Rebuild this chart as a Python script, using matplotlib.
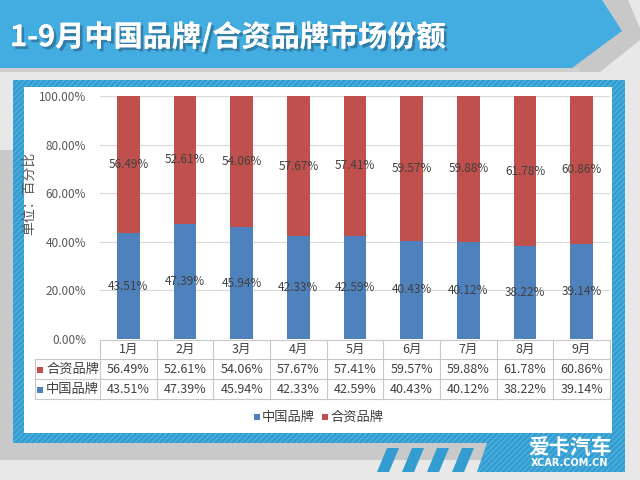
import matplotlib
matplotlib.use("Agg")
import matplotlib.pyplot as plt
import matplotlib.patheffects as pe
from matplotlib.patches import Polygon, Rectangle
from matplotlib.transforms import blended_transform_factory

plt.rcParams['font.family'] = ['Noto Sans CJK SC', 'DejaVu Sans']
plt.rcParams['hatch.linewidth'] = 0.8

# data
months = ["1月", "2月", "3月", "4月", "5月", "6月", "7月", "8月", "9月"]
china = [43.51, 47.39, 45.94, 42.33, 42.59, 40.43, 40.12, 38.22, 39.14]
joint = [56.49, 52.61, 54.06, 57.67, 57.41, 59.57, 59.88, 61.78, 60.86]
series_names = ["中国品牌", "合资品牌"]
title = "1-9月中国品牌/合资品牌市场份额"

c_blue = '#4f81bd'
c_red = '#c0504d'
txt = '#404040'

fig = plt.figure(figsize=(6.4, 4.8), dpi=100)
fig.patch.set_facecolor('#e8e8e8')

# background / decoration in pixel coords
bg = fig.add_axes([0, 0, 1, 1])
bg.set_xlim(0, 640)
bg.set_ylim(480, 0)
bg.axis('off')
bg.add_patch(Rectangle((0, 150), 13, 310, color='#c9c9c9', lw=0))
bg.add_patch(Rectangle((0, 443), 490, 17, color='#c9c9c9', lw=0))
bg.add_patch(Polygon([(585, 0), (628, 0), (640, 28), (640, 40), (600, 72), (565, 72)],
                     closed=True, color='#c8c8c8', lw=0))
bg.add_patch(Rectangle((0, 68), 580, 4, color='#cfcfcf', lw=0))
bg.add_patch(Polygon([(0, 0), (602, 0), (622, 31), (572, 68), (0, 68)],
                     closed=True, color='#43ace0', lw=0))
# frame
bg.add_patch(Rectangle((13, 80), 612, 363, facecolor='#339dd1', edgecolor='#56b4e0',
                       hatch='//////', lw=0))
bg.add_patch(Polygon([(487, 443), (625, 443), (625, 472), (477, 472)], closed=True,
                     facecolor='#339dd1', edgecolor='#56b4e0', hatch='//////', lw=0))
for x0 in [377, 402, 427, 452]:
    bg.add_patch(Polygon([(x0 + 10, 448), (x0 + 22, 448), (x0 + 12, 472), (x0, 472)],
                         closed=True, color='#339dd1', lw=0))
bg.add_patch(Rectangle((24, 87), 588, 346, color='white', lw=0))

bg.text(10, 37, title, color='white', fontsize=21, fontweight='bold', va='center', ha='left',
        path_effects=[pe.withSimplePatchShadow(offset=(2, -2), shadow_rgbFace='#2a5f80', alpha=0.6),
                      pe.Normal()])
bg.text(570, 447, "爱卡汽车", color='white', fontsize=15, fontweight='bold', fontstyle='italic',
        ha='center', va='center')
bg.text(570, 463, "XCAR.COM.CN", color='white', fontsize=7, fontweight='bold',
        ha='center', va='center', family='DejaVu Sans')

# chart
ax = fig.add_axes([100 / 640, 1 - 339 / 480, 510 / 640, 243 / 480])
ax.set_facecolor('none')
x = list(range(len(months)))
ax.bar(x, china, width=0.4, color=c_blue, zorder=2)
ax.bar(x, joint, width=0.4, bottom=china, color=c_red, zorder=2)
for i in x:
    ax.text(i, china[i] / 2, f"{china[i]:.2f}%", ha='center', va='center', fontsize=8.5, color=txt, zorder=3)
    ax.text(i, china[i] + joint[i] / 2, f"{joint[i]:.2f}%", ha='center', va='center', fontsize=8.5,
            color=txt, zorder=3)
ax.set_xlim(-0.5, len(months) - 0.5)
ax.set_ylim(0, 100)
ax.set_yticks(range(0, 101, 20))
ax.set_yticklabels([f"{v:.2f}%" for v in range(0, 101, 20)], fontsize=8.5, color='#595959')
ax.set_xticks([])
ax.tick_params(axis='y', length=0, pad=10)
ax.grid(axis='y', color='#d9d9d9', lw=0.8, zorder=0)
for s in ax.spines.values():
    s.set_visible(False)
ax.set_ylabel("单位：百分比", fontsize=10, color='#595959', labelpad=22)
ax.yaxis.set_label_coords(-0.125, 0.6)

# data table below the axes
tr = blended_transform_factory(ax.transData, bg.transData)
line_kw = dict(color='#c8c8c8', lw=0.8, clip_on=False)
rows_y = [340, 359, 379, 399]
ax.plot([-0.5, 8.5], [rows_y[0]] * 2, transform=tr, **line_kw)
for yy in rows_y[1:]:
    bg.plot([35, 610], [yy, yy], **line_kw)
bg.plot([35, 35], [359, 399], **line_kw)
for i in range(len(months) + 1):
    ax.plot([i - 0.5, i - 0.5], [340, 399], transform=tr, **line_kw)
for i in x:
    ax.text(i, 349.5, months[i], transform=tr, ha='center', va='center', fontsize=9, color=txt, clip_on=False)
    ax.text(i, 369.5, f"{joint[i]:.2f}%", transform=tr, ha='center', va='center', fontsize=9,
            color=txt, clip_on=False)
    ax.text(i, 389.5, f"{china[i]:.2f}%", transform=tr, ha='center', va='center', fontsize=9,
            color=txt, clip_on=False)
for yy, name, col in [(369.5, series_names[1], c_red), (389.5, series_names[0], c_blue)]:
    bg.add_patch(Rectangle((37, yy - 3), 6, 6, color=col, lw=0))
    bg.text(46, yy, name, ha='left', va='center', fontsize=9.5, color=txt)

# legend
for lx, name, col in [(254, series_names[0], c_blue), (322, series_names[1], c_red)]:
    bg.add_patch(Rectangle((lx, 414), 6, 6, color=col, lw=0))
    bg.text(lx + 8, 417, name, ha='left', va='center', fontsize=9.5, color=txt)

fig.savefig("out.png", dpi=100, facecolor=fig.get_facecolor())
